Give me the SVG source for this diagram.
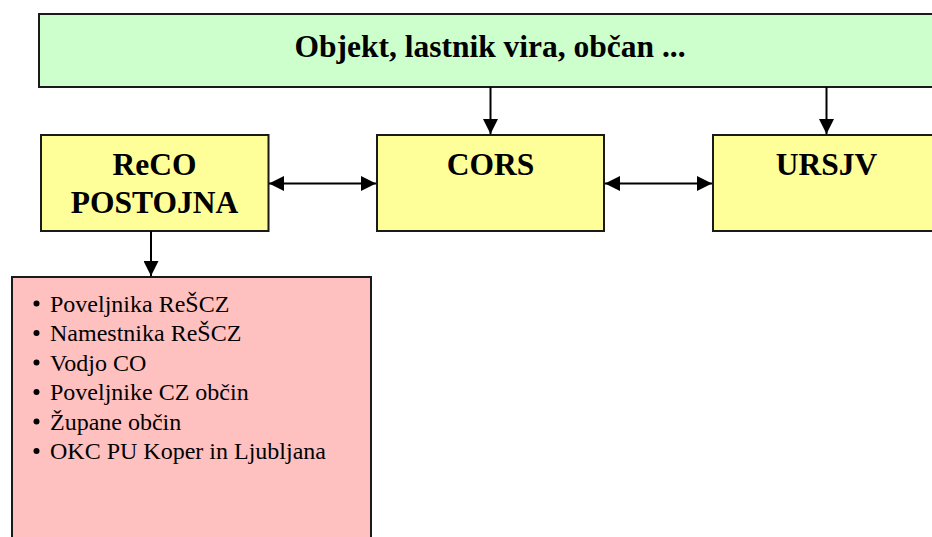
<svg xmlns="http://www.w3.org/2000/svg" width="932" height="537" viewBox="0 0 932 537">
<style>
.box{stroke:#1a1a1a;stroke-width:2}
.green{fill:#CCFFCC}
.yellow{fill:#FFFF99}
.pink{fill:#FFC0C0}
.bold{font-family:"Liberation Serif","Times New Roman",serif;font-weight:bold;font-size:31.5px;fill:#000;text-anchor:middle}
.list{font-family:"Liberation Serif","Times New Roman",serif;font-size:24px;fill:#000}
.conn{stroke:#000;stroke-width:2;fill:none}
</style>
<defs>
<marker id="ah" markerUnits="userSpaceOnUse" markerWidth="15" markerHeight="15" refX="15" refY="7.5" orient="auto-start-reverse" viewBox="0 0 15 15">
<path d="M0,0 L15,7.5 L0,15 z" fill="#000"/>
</marker>
</defs>
<rect width="932" height="537" fill="#fff"/>
<g id="objekt">
<rect class="box green" x="39" y="14" width="910" height="73"/>
<text class="bold" x="490" y="57">Objekt, lastnik vira, občan ...</text>
</g>
<g id="reco">
<rect class="box yellow" x="41" y="135" width="227.5" height="96"/>
<text class="bold" x="154.5" y="175">ReCO</text>
<text class="bold" x="154.5" y="212.5">POSTOJNA</text>
</g>
<g id="cors">
<rect class="box yellow" x="377" y="135" width="227" height="96"/>
<text class="bold" x="490.5" y="175">CORS</text>
</g>
<g id="ursjv">
<rect class="box yellow" x="713" y="135" width="227" height="96"/>
<text class="bold" x="826.5" y="175">URSJV</text>
</g>
<g id="list">
<rect class="box pink" x="12" y="277" width="359" height="280"/>
<g fill="#000">
<circle cx="36.5" cy="303.5" r="3"/>
<circle cx="36.5" cy="333" r="3"/>
<circle cx="36.5" cy="362.5" r="3"/>
<circle cx="36.5" cy="392" r="3"/>
<circle cx="36.5" cy="421.5" r="3"/>
<circle cx="36.5" cy="451" r="3"/>
</g>
<text class="list" x="50" y="311.7">Poveljnika ReŠCZ</text>
<text class="list" x="50" y="341.2">Namestnika ReŠCZ</text>
<text class="list" x="50" y="370.7">Vodjo CO</text>
<text class="list" x="50" y="400.2">Poveljnike CZ občin</text>
<text class="list" x="50" y="429.7">Župane občin</text>
<text class="list" x="50" y="459.2">OKC PU Koper in Ljubljana</text>
</g>
<g id="connectors">
<line class="conn" x1="490.5" y1="87" x2="490.5" y2="134" marker-end="url(#ah)"/>
<line class="conn" x1="826.5" y1="87" x2="826.5" y2="134" marker-end="url(#ah)"/>
<line class="conn" x1="269" y1="183.5" x2="376" y2="183.5" marker-start="url(#ah)" marker-end="url(#ah)"/>
<line class="conn" x1="605" y1="183.5" x2="712" y2="183.5" marker-start="url(#ah)" marker-end="url(#ah)"/>
<line class="conn" x1="151" y1="231" x2="151" y2="276" marker-end="url(#ah)"/>
</g>
</svg>
